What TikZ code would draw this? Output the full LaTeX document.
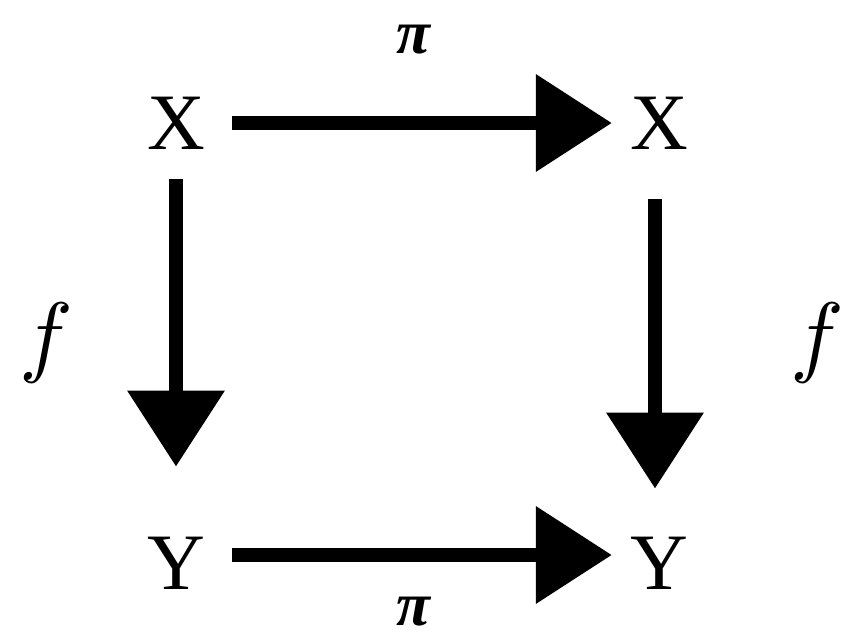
\documentclass[tikz,border=0pt]{standalone}
\usepackage{fontspec}
\setmainfont{Liberation Serif}
\usepackage{tikz}
\usetikzlibrary{arrows.meta}
\tikzset{
  obj/.style  = {inner sep=0pt, font=\fontsize{80}{96}\selectfont},
  lbl/.style  = {inner sep=0pt, font=\fontsize{62}{74}\selectfont\bfseries\itshape},
  flbl/.style = {inner sep=0pt, scale=9},
  map/.style  = {-{Triangle[length=76pt,width=94pt]}, line width=14pt, draw=black},
}

\begin{document}
\begin{tikzpicture}[x=1pt,y=1pt]
    \useasboundingbox (0,0) rectangle (846,641);
    % the four objects
    \node[obj] (xa) at (176,518) {X};
    \node[obj] (xb) at (659,518) {X};
    \node[obj] (ya) at (176,78)  {Y};
    \node[obj] (yb) at (659,78)  {Y};

    \draw[map, shorten <=27pt, shorten >=18pt] (xa.east) -- node[lbl, pos=0.49, yshift=83pt]{π} (xb.west);
    \draw[map, shorten <=30pt, shorten >=70pt] (xa.south) -- node[xshift=-130pt, flbl]{$f$} (ya.north);
    \draw[map, shorten <=50pt, shorten >=48pt] ([xshift=-4pt]xb.south) -- node[xshift=162pt, flbl]{$f$} ([xshift=-4pt]yb.north);
    \draw[map, shorten <=27pt, shorten >=18pt] ([yshift=8pt]ya.east) -- node[lbl, pos=0.49, yshift=-57pt]{π} ([yshift=8pt]yb.west);
\end{tikzpicture}
\end{document}
